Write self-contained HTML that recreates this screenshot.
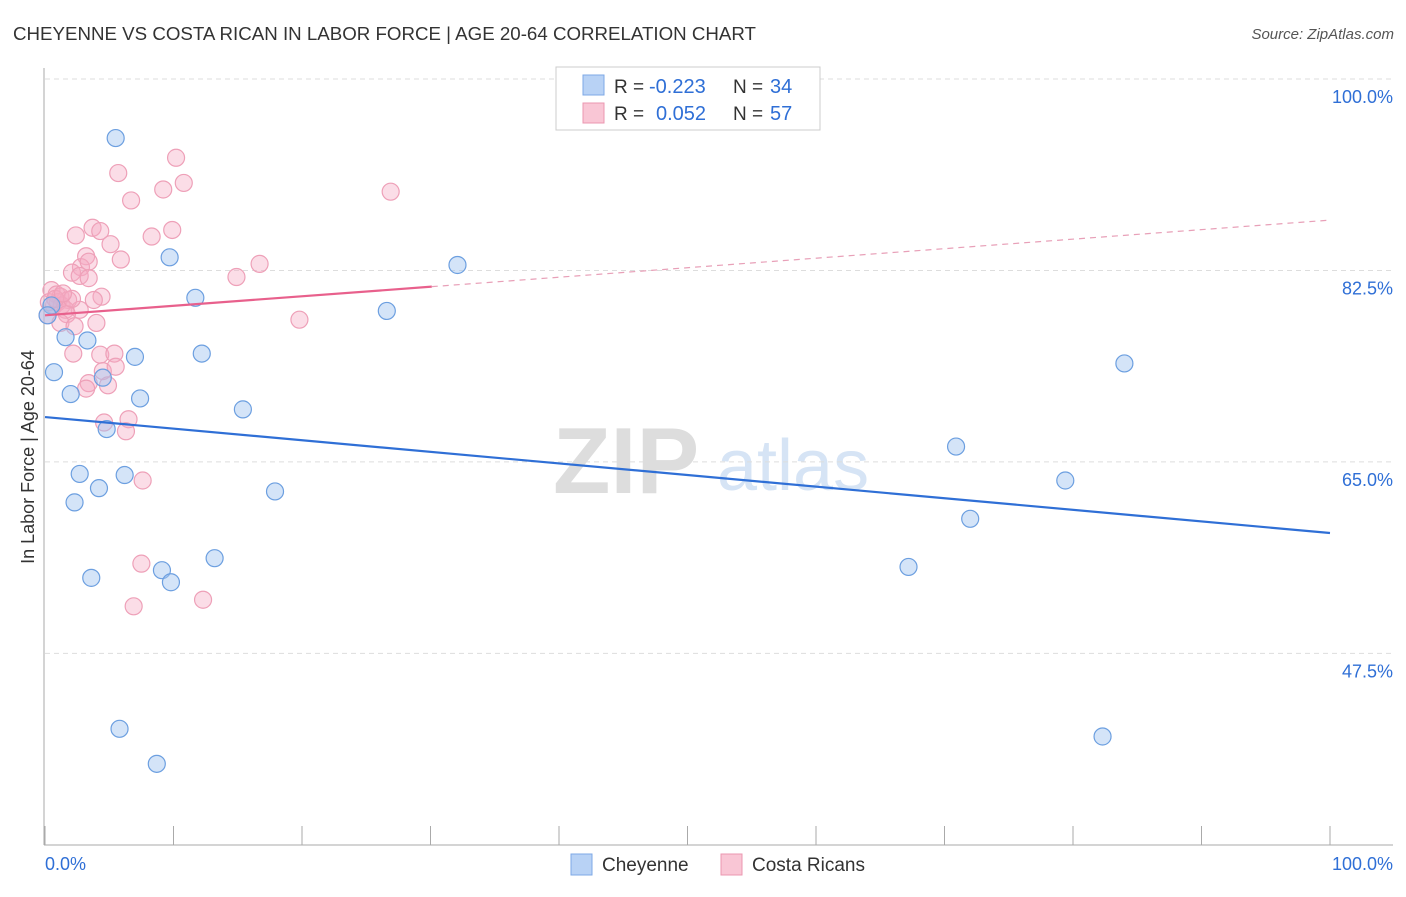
<!DOCTYPE html>
<html><head><meta charset="utf-8"><style>
body{margin:0;background:#fff;font-family:"Liberation Sans",sans-serif;}
svg text{font-family:"Liberation Sans",sans-serif;}
</style></head><body>
<svg id="chart" width="1406" height="892" xmlns="http://www.w3.org/2000/svg">
<text x="13" y="40" font-size="18" fill="#333" textLength="743" lengthAdjust="spacingAndGlyphs">CHEYENNE VS COSTA RICAN IN LABOR FORCE | AGE 20-64 CORRELATION CHART</text>
<text x="1394" y="39" font-size="15" fill="#555" text-anchor="end" font-style="italic">Source: ZipAtlas.com</text>
<g>
<text x="553" y="493" font-size="94" fill="#ddd" font-family="Liberation Serif" font-weight="bold">ZIP</text>
<text x="717" y="490" font-size="72" fill="#d6e4f5">atlas</text>
</g>
<g id="grid"></g>
<g id="axes"></g>
<g id="marks"></g>
<text transform="translate(34,457) rotate(-90)" font-size="18" fill="#333" text-anchor="middle">In Labor Force | Age 20-64</text>
<g>
<rect x="556" y="67" width="264" height="63" fill="#fff" stroke="#ccc"/>
<rect x="583" y="75" width="21" height="20" fill="#b8d2f5" stroke="#7ea8e6"/>
<rect x="583" y="103" width="21" height="20" fill="#f9c6d5" stroke="#eb97b0"/>
<text x="614" y="93" font-size="19" fill="#333">R =</text>
<text x="649" y="93" font-size="20" fill="#2f6fd6">-0.223</text>
<text x="733" y="93" font-size="19" fill="#333">N =</text>
<text x="770" y="93" font-size="20" fill="#2f6fd6">34</text>
<text x="614" y="120" font-size="19" fill="#333">R =</text>
<text x="656" y="120" font-size="20" fill="#2f6fd6">0.052</text>
<text x="733" y="120" font-size="19" fill="#333">N =</text>
<text x="770" y="120" font-size="20" fill="#2f6fd6">57</text>
</g>
<g>
<rect x="571" y="854" width="21" height="21" fill="#b8d2f5" stroke="#7ea8e6"/>
<text x="602" y="871" font-size="19" fill="#333">Cheyenne</text>
<rect x="721" y="854" width="21" height="21" fill="#f9c6d5" stroke="#eb97b0"/>
<text x="752" y="871" font-size="19" fill="#333">Costa Ricans</text>
</g>
</svg>
<script>
const yTicks=[100,82.5,65,47.5];
const yTickLabels=["100.0%","82.5%","65.0%","47.5%"];
const xTickLabels=["0.0%","100.0%"];
const cheyenneX=[5.5,9.7,11.7,1.6,3.3,7.0,12.2,0.7,4.5,2.0,7.4,15.4,4.8,2.7,6.2,4.2,2.3,17.9,9.1,3.6,9.8,13.2,5.8,8.7,26.6,32.1,84.0,70.9,79.4,72.0,67.2,82.3,0.5,0.2];
const cheyenneY=[94.6,83.7,80.0,76.4,76.1,74.6,74.9,73.2,72.7,71.2,70.8,69.8,68.0,63.9,63.8,62.6,61.3,62.3,55.1,54.4,54.0,56.2,40.6,37.4,78.8,83.0,74.0,66.4,63.3,59.8,55.4,39.9,79.3,78.4];
const costaX=[5.7,10.2,9.2,10.8,6.7,26.9,2.4,3.7,4.3,5.1,8.3,9.9,3.2,5.9,2.8,3.4,2.1,2.7,3.4,14.9,16.7,0.5,0.9,1.2,1.8,4.4,3.8,0.7,1.0,1.3,1.6,2.7,1.7,0.2,4.0,1.2,2.3,19.8,2.2,4.3,5.4,4.5,5.5,3.4,3.2,4.9,4.6,6.5,6.3,7.6,7.5,6.9,12.3,2.1,0.3,0.8,1.4];
const costaY=[91.4,92.8,89.9,90.5,88.9,89.7,85.7,86.4,86.1,84.9,85.6,86.2,83.8,83.5,82.8,83.3,82.3,82.0,81.8,81.9,83.1,80.7,80.3,80.1,79.8,80.1,79.8,79.3,79.6,79.3,78.9,78.9,78.5,78.4,77.7,77.7,77.4,78.0,74.9,74.8,74.9,73.3,73.7,72.2,71.7,72.0,68.6,68.9,67.8,63.3,55.7,51.8,52.4,79.9,79.6,79.9,80.4];
const blueTrend=[69.1,58.5];
const pinkTrend=[78.4,87.1];
const pinkSolidEnd=30.1;
const X=v=>45+v*12.85, Y=v=>79+(100-v)*10.94;
const NS="http://www.w3.org/2000/svg";
function mk(tag,attrs,parent){const e=document.createElementNS(NS,tag);for(const k in attrs)e.setAttribute(k,attrs[k]);document.getElementById(parent).appendChild(e);return e;}
yTicks.forEach((t,i)=>{
 const g=mk('line',{x1:45,x2:1393,y1:Y(t),y2:Y(t),stroke:'#ddd','stroke-dasharray':'5,4'},'grid');
 
 
 const l=mk('text',{x:1393,y:Y(t)+24,'font-size':18,fill:'#2f6fd6','text-anchor':'end'},'axes');
 l.textContent=yTickLabels[i];
 
 
});
let ax=mk('line',{x1:44,x2:44,y1:68,y2:845,stroke:'#aaa'},'axes');


ax=mk('line',{x1:44,x2:1393,y1:845,y2:845,stroke:'#aaa'},'axes');


for(let i=0;i<=10;i++){const t=mk('line',{x1:X(i*10),x2:X(i*10),y1:826,y2:845,stroke:'#aaa'},'axes');
 
 }
[[0,'start',45],[100,'end',1393]].forEach((d,i)=>{const l=mk('text',{x:d[2],y:870,'font-size':18,fill:'#2f6fd6','text-anchor':d[1]},'axes');l.textContent=xTickLabels[i];
 
 });
costaX.forEach((x,i)=>{const c=mk('circle',{cx:X(x),cy:Y(costaY[i]),r:8.5,fill:'rgba(246,170,195,0.4)',stroke:'#eea0b8','stroke-width':1.2},'marks');
 
 });
cheyenneX.forEach((x,i)=>{const c=mk('circle',{cx:X(x),cy:Y(cheyenneY[i]),r:8.5,fill:'rgba(160,195,240,0.45)',stroke:'#6c9fe0','stroke-width':1.2},'marks');
 
 });
let t=mk('line',{x1:X(0),y1:Y(blueTrend[0]),x2:X(100),y2:Y(blueTrend[1]),stroke:'#2f6fd6','stroke-width':2.2},'marks');


const pe=pinkTrend[0]+(pinkTrend[1]-pinkTrend[0])*pinkSolidEnd/100;
t=mk('line',{x1:X(0),y1:Y(pinkTrend[0]),x2:X(pinkSolidEnd),y2:Y(pe),stroke:'#e8608c','stroke-width':2.2},'marks');


t=mk('line',{x1:X(pinkSolidEnd),y1:Y(pe),x2:X(100),y2:Y(pinkTrend[1]),stroke:'#e8a0b8','stroke-width':1.2,'stroke-dasharray':'6,5'},'marks');


</script>
</body></html>
